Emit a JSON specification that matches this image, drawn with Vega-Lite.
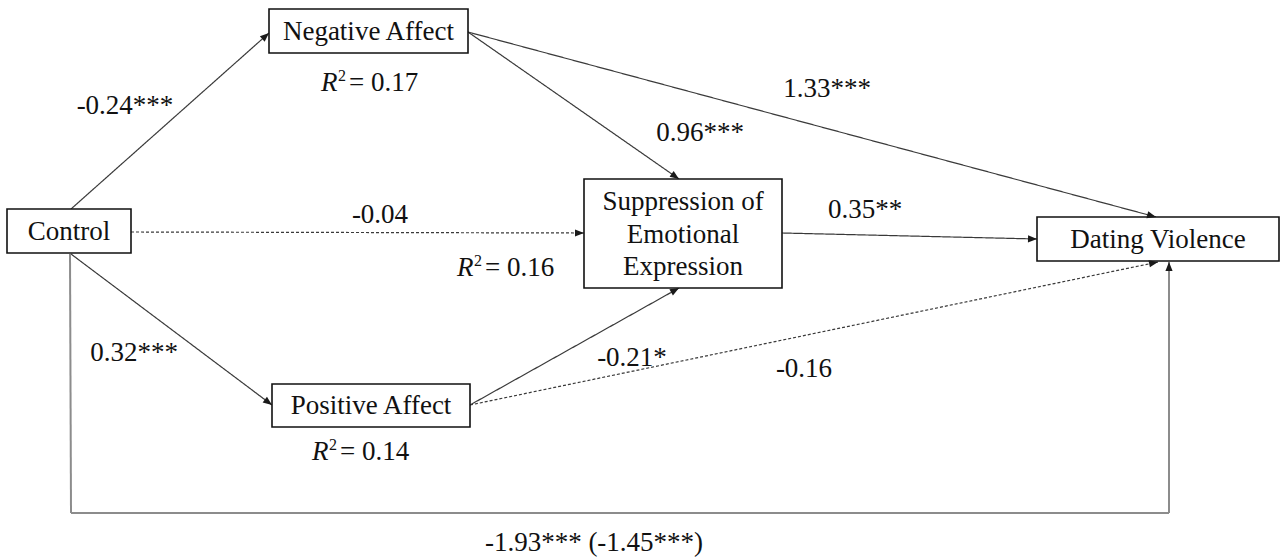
{
  "$schema": "https://vega.github.io/schema/vega-lite/v6.json",
  "width": 1282,
  "height": 558,
  "autosize": {"type": "fit", "contains": "padding"},
  "padding": 0,
  "background": "white",
  "config": {"view": {"stroke": null}},
  "datasets": {
    "edges": [
      {"from": "Control", "to": "Negative Affect", "x1": 71, "y1": 209, "x2": 269, "y2": 33, "sig": "significant", "route": "mediated", "arrow": true},
      {"from": "Control", "to": "Suppression", "x1": 131, "y1": 232, "x2": 584, "y2": 233, "sig": "non-significant", "route": "mediated", "arrow": true},
      {"from": "Control", "to": "Positive Affect", "x1": 71, "y1": 254, "x2": 272, "y2": 405, "sig": "significant", "route": "mediated", "arrow": true},
      {"from": "Negative Affect", "to": "Suppression", "x1": 468, "y1": 32, "x2": 679, "y2": 179, "sig": "significant", "route": "mediated", "arrow": true},
      {"from": "Negative Affect", "to": "Dating Violence", "x1": 468, "y1": 32, "x2": 1156, "y2": 217, "sig": "significant", "route": "mediated", "arrow": true},
      {"from": "Suppression", "to": "Dating Violence", "x1": 782, "y1": 233, "x2": 1037, "y2": 239, "sig": "significant", "route": "mediated", "arrow": true},
      {"from": "Positive Affect", "to": "Suppression", "x1": 470, "y1": 405, "x2": 679, "y2": 288, "sig": "significant", "route": "mediated", "arrow": true},
      {"from": "Positive Affect", "to": "Dating Violence", "x1": 470, "y1": 405, "x2": 1158, "y2": 262, "sig": "non-significant", "route": "mediated", "arrow": true},
      {"from": "Control", "to": "corner1", "x1": 70, "y1": 254, "x2": 71, "y2": 513, "sig": "significant", "route": "direct", "arrow": false},
      {"from": "corner1", "to": "corner2", "x1": 71, "y1": 513, "x2": 1169, "y2": 513, "sig": "significant", "route": "direct", "arrow": false},
      {"from": "corner2", "to": "Dating Violence", "x1": 1169, "y1": 513, "x2": 1169, "y2": 262, "sig": "significant", "route": "direct", "arrow": true}
    ],
    "nodes": [
      {"name": "Control", "label": "Control", "x0": 7, "x1": 131, "y0": 209, "y1": 253, "tx": 69, "ty": 232},
      {"name": "Negative Affect", "label": "Negative Affect", "x0": 269, "x1": 468, "y0": 9, "y1": 53, "tx": 368.5, "ty": 32},
      {"name": "Positive Affect", "label": "Positive Affect", "x0": 272, "x1": 470, "y0": 384, "y1": 427, "tx": 371, "ty": 406},
      {"name": "Suppression", "label": "Suppression of\nEmotional\nExpression", "x0": 584, "x1": 782, "y0": 179, "y1": 288, "tx": 683, "ty": 202},
      {"name": "Dating Violence", "label": "Dating Violence", "x0": 1037, "x1": 1279, "y0": 217, "y1": 261, "tx": 1158, "ty": 240}
    ],
    "labels": [
      {"text": "-0.24***", "x": 125, "y": 106},
      {"text": "1.33***", "x": 827, "y": 89},
      {"text": "0.96***", "x": 700, "y": 133},
      {"text": "-0.04", "x": 380, "y": 215},
      {"text": "0.35**", "x": 865, "y": 210},
      {"text": "0.32***", "x": 134, "y": 353},
      {"text": "-0.21*", "x": 632, "y": 358},
      {"text": "-0.16", "x": 804, "y": 369},
      {"text": "-1.93*** (-1.45***)", "x": 594, "y": 543}
    ],
    "r2": [
      {"node": "Negative Affect", "value": "= 0.17", "x": 321, "y": 83},
      {"node": "Suppression", "value": "= 0.16", "x": 457, "y": 268},
      {"node": "Positive Affect", "value": "= 0.14", "x": 312, "y": 452}
    ]
  },
  "layer": [
    {
      "data": {"name": "edges"},
      "transform": [{"filter": "datum.route === 'mediated'"}],
      "mark": {"type": "rule", "color": "#3a3a3a", "strokeWidth": 1.2},
      "encoding": {
        "x": {"field": "x1", "type": "quantitative", "scale": {"domain": [0, 1282], "nice": false, "zero": false}, "axis": null},
        "y": {"field": "y1", "type": "quantitative", "scale": {"domain": [0, 558], "nice": false, "zero": false, "reverse": true}, "axis": null},
        "x2": {"field": "x2"},
        "y2": {"field": "y2"},
        "strokeDash": {"field": "sig", "type": "nominal", "scale": {"domain": ["significant", "non-significant"], "range": [[1, 0], [3, 2]]}, "legend": null}
      }
    },
    {
      "data": {"name": "edges"},
      "transform": [{"filter": "datum.route === 'direct'"}],
      "mark": {"type": "rule", "color": "#8c8c8c", "strokeWidth": 2},
      "encoding": {
        "x": {"field": "x1", "type": "quantitative", "axis": null},
        "y": {"field": "y1", "type": "quantitative", "axis": null},
        "x2": {"field": "x2"},
        "y2": {"field": "y2"}
      }
    },
    {
      "data": {"name": "nodes"},
      "mark": {"type": "rect", "fill": "white", "stroke": "#111111", "strokeWidth": 1.6},
      "encoding": {
        "x": {"field": "x0", "type": "quantitative", "axis": null},
        "x2": {"field": "x1"},
        "y": {"field": "y0", "type": "quantitative", "axis": null},
        "y2": {"field": "y1"}
      }
    },
    {
      "data": {"name": "edges"},
      "transform": [
        {"filter": "datum.arrow"},
        {"calculate": "atan2(datum.x2 - datum.x1, -(datum.y2 - datum.y1)) * 180 / PI", "as": "ang"}
      ],
      "mark": {"type": "point", "shape": "M0,0L-0.4,1L0.4,1Z", "filled": true, "color": "#1a1a1a", "size": 324, "opacity": 1, "strokeWidth": 0},
      "encoding": {
        "x": {"field": "x2", "type": "quantitative", "axis": null},
        "y": {"field": "y2", "type": "quantitative", "axis": null},
        "angle": {"field": "ang", "type": "quantitative", "scale": null}
      }
    },
    {
      "data": {"name": "nodes"},
      "mark": {"type": "text", "font": "Liberation Serif, Times New Roman, serif", "fontSize": 27, "align": "center", "baseline": "middle", "lineBreak": "\n", "lineHeight": 32.5, "color": "#111111"},
      "encoding": {
        "x": {"field": "tx", "type": "quantitative", "axis": null},
        "y": {"field": "ty", "type": "quantitative", "axis": null},
        "text": {"field": "label", "type": "nominal"}
      }
    },
    {
      "data": {"name": "labels"},
      "mark": {"type": "text", "font": "Liberation Serif, Times New Roman, serif", "fontSize": 27, "align": "center", "baseline": "middle", "color": "#111111"},
      "encoding": {
        "x": {"field": "x", "type": "quantitative", "axis": null},
        "y": {"field": "y", "type": "quantitative", "axis": null},
        "text": {"field": "text", "type": "nominal"}
      }
    },
    {
      "data": {"name": "r2"},
      "mark": {"type": "text", "font": "Liberation Serif, Times New Roman, serif", "fontSize": 27, "fontStyle": "italic", "align": "left", "baseline": "middle", "color": "#111111"},
      "encoding": {
        "x": {"field": "x", "type": "quantitative", "axis": null},
        "y": {"field": "y", "type": "quantitative", "axis": null},
        "text": {"value": "R"}
      }
    },
    {
      "data": {"name": "r2"},
      "mark": {"type": "text", "font": "Liberation Serif, Times New Roman, serif", "fontSize": 16, "align": "left", "baseline": "middle", "dx": 17, "dy": -7, "color": "#111111"},
      "encoding": {
        "x": {"field": "x", "type": "quantitative", "axis": null},
        "y": {"field": "y", "type": "quantitative", "axis": null},
        "text": {"value": "2"}
      }
    },
    {
      "data": {"name": "r2"},
      "mark": {"type": "text", "font": "Liberation Serif, Times New Roman, serif", "fontSize": 27, "align": "left", "baseline": "middle", "dx": 28, "color": "#111111"},
      "encoding": {
        "x": {"field": "x", "type": "quantitative", "axis": null},
        "y": {"field": "y", "type": "quantitative", "axis": null},
        "text": {"field": "value", "type": "nominal"}
      }
    }
  ]
}
